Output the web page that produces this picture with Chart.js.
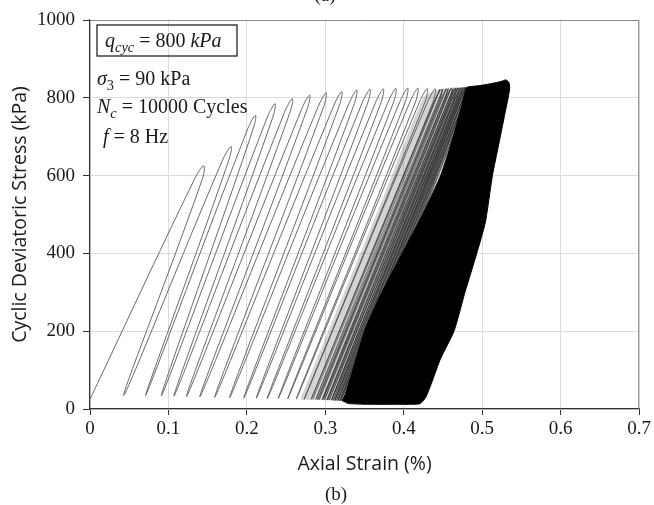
<!DOCTYPE html>
<html>
<head>
<meta charset="utf-8">
<script src="https://cdn.jsdelivr.net/npm/chart.js@4.4.0/dist/chart.umd.min.js"></script>
<style>
  html, body { margin: 0; padding: 0; background: #fff; }
  #wrap { width: 654px; height: 505px; position: relative; }
</style>
</head>
<body>
<div id="wrap"><canvas id="chart"></canvas></div>
<script>
// turning points of the separate early cycles: axial strain (%) / deviatoric stress (kPa)
const valleyStrain = [0.000, 0.043, 0.071, 0.091, 0.107, 0.123, 0.140, 0.159, 0.178, 0.196, 0.212, 0.226, 0.240,
                      0.252, 0.263, 0.273, 0.282, 0.290, 0.297, 0.303, 0.308, 0.312, 0.316, 0.319, 0.322];
const valleyStress = [25, 35, 35, 34, 33, 32, 31, 30, 29, 28, 28, 27, 27, 26, 26, 25, 25, 24, 24, 23, 23, 22, 22, 22, 21];
const peakStrain   = [0.145, 0.180, 0.211, 0.236, 0.258, 0.280, 0.301, 0.321, 0.340, 0.357, 0.374, 0.390,
                      0.405, 0.418, 0.430, 0.440, 0.448, 0.455, 0.461, 0.466, 0.470, 0.474, 0.477, 0.480];
const peakStress   = [625, 675, 755, 785, 798, 807, 813, 816, 820, 822, 823, 824, 825, 825, 824, 823, 822, 823,
                      824, 824, 825, 825, 826, 826];
// end of loading (shoulder) and start of unloading (knee) just under each peak
const shoulderStrain = [0.133, 0.169, 0.201, 0.226, 0.248, 0.270, 0.291, 0.311, 0.330, 0.347, 0.364, 0.380,
                        0.395, 0.408, 0.420, 0.430, 0.438, 0.445, 0.451, 0.456, 0.460, 0.464, 0.467, 0.470];
const kneeStrain     = [0.143, 0.177, 0.208, 0.233, 0.255, 0.277, 0.298, 0.318, 0.337, 0.354, 0.371, 0.387,
                        0.402, 0.415, 0.427, 0.437, 0.445, 0.452, 0.458, 0.463, 0.467, 0.471, 0.474, 0.477];
const capStress      = [590, 640, 720, 750, 763, 772, 778, 781, 785, 787, 788, 789, 790, 790, 789, 788, 787, 788,
                        789, 789, 790, 790, 791, 791];

// closely packed cycles just before the saturated zone
const denseValleyStrain = [0.284, 0.288, 0.292, 0.296, 0.299, 0.302, 0.305, 0.308, 0.310, 0.312, 0.314, 0.316,
                           0.318, 0.320, 0.322, 0.324, 0.326, 0.328, 0.330, 0.332, 0.334];
const denseValleyStress = [25, 25, 24, 24, 24, 23, 23, 23, 22, 22, 22, 22, 21, 21, 21, 21, 20, 20, 20, 20, 20];
const densePeakStrain   = [0.446, 0.450, 0.454, 0.457, 0.460, 0.463, 0.465, 0.467, 0.469, 0.471, 0.473, 0.475,
                           0.476, 0.478, 0.479, 0.481, 0.482, 0.484, 0.485, 0.487];
const densePeakStress   = [822, 822, 823, 823, 824, 824, 824, 825, 825, 825, 826, 826, 826, 827, 827, 827, 828,
                           828, 829, 829];

// faint hatch where the cycles crowd together
const bandStrain = [0.268, 0.316, 0.377, 0.425, 0.445, 0.480, 0.474, 0.463, 0.447, 0.424, 0.398, 0.372, 0.350,
                    0.335, 0.326, 0.321];
const bandStress = [24, 260, 560, 800, 822, 826, 780, 700, 600, 500, 400, 300, 200, 100, 40, 22];

// outline of the solid region traced by the remaining cycles up to N = 10000
const blackStrain = [0.321, 0.330, 0.360, 0.390, 0.410, 0.421, 0.428, 0.436, 0.447, 0.464, 0.478, 0.493, 0.504,
                     0.513, 0.521, 0.528, 0.533, 0.535, 0.534, 0.530, 0.524, 0.515, 0.505, 0.495, 0.486, 0.480,
                     0.474, 0.463, 0.447, 0.424, 0.398, 0.372, 0.350, 0.335, 0.326];
const blackStress = [22, 14, 12, 12, 12, 14, 30, 70, 130, 200, 300, 400, 480, 600, 680, 750, 800, 825, 840, 846,
                     842, 838, 834, 831, 829, 826, 780, 700, 600, 500, 400, 300, 200, 100, 40];

const serif = '"Liberation Serif", "DejaVu Serif", serif';
const sans = '"Open Sans", "Liberation Sans", sans-serif';
const ink = '#1a1a1a';

// valley -> (shoulder) -> peak -> (knee) -> next valley, for every cycle
function loopPath(vx, vy, px, py, sx, kx, cy) {
  const pts = [];
  for (let i = 0; i < px.length; i++) {
    pts.push({ x: vx[i], y: vy[i] });
    if (sx) pts.push({ x: sx[i], y: cy[i] });
    pts.push({ x: px[i], y: py[i] });
    if (kx) pts.push({ x: kx[i], y: cy[i] });
  }
  pts.push({ x: vx[px.length], y: vy[px.length] });
  return pts;
}

function outline(xs, ys) {
  return xs.map((x, i) => ({ x: x, y: ys[i] }));
}

// draws a run of text pieces, some italic, some lowered as subscripts
function drawRuns(ctx, x, y, runs, size) {
  runs.forEach(r => {
    const s = r.sub ? size * 0.72 : size;
    ctx.font = (r.it ? 'italic ' : '') + s + 'px ' + serif;
    ctx.fillText(r.t, x, r.sub ? y + size * 0.25 : y);
    x += ctx.measureText(r.t).width;
  });
  return x;
}

const annotations = {
  id: 'annotations',
  afterDraw(chart) {
    const ctx = chart.ctx;
    const a = chart.chartArea;
    ctx.save();

    // top and right frame
    ctx.strokeStyle = '#8a8a8a';
    ctx.lineWidth = 1;
    ctx.beginPath();
    ctx.moveTo(a.left, a.top + 0.5);
    ctx.lineTo(a.right - 0.5, a.top + 0.5);
    ctx.lineTo(a.right - 0.5, a.bottom);
    ctx.stroke();

    ctx.fillStyle = ink;
    ctx.textBaseline = 'alphabetic';
    const size = 20;

    // boxed loading level
    ctx.strokeStyle = '#222';
    ctx.lineWidth = 1.3;
    ctx.strokeRect(a.left + 7, a.top + 5, 140, 31);
    drawRuns(ctx, a.left + 15, a.top + 27, [
      { t: 'q', it: true }, { t: 'cyc', it: true, sub: true }, { t: ' = 800 ' }, { t: 'kPa', it: true }
    ], size);

    drawRuns(ctx, a.left + 7, a.top + 65, [
      { t: 'σ', it: true }, { t: '3', sub: true }, { t: ' = 90 kPa' }
    ], size);
    drawRuns(ctx, a.left + 7, a.top + 93, [
      { t: 'N', it: true }, { t: 'c', it: true, sub: true }, { t: ' = 10000 Cycles' }
    ], size);
    drawRuns(ctx, a.left + 13, a.top + 123, [
      { t: 'f', it: true }, { t: ' = 8 Hz' }
    ], size);

    // panel captions
    ctx.font = '19px ' + serif;
    ctx.textAlign = 'center';
    ctx.fillText('(b)', 336, 500);
    ctx.fillText('(a)', 325, 1);
    ctx.restore();
  }
};

new Chart(document.getElementById('chart'), {
  type: 'scatter',
  data: {
    datasets: [
      {
        data: outline(blackStrain, blackStress),
        showLine: true, fill: 'shape', tension: 0.2,
        backgroundColor: '#000', borderColor: '#000', borderWidth: 1,
        pointRadius: 0, order: 0
      },
      {
        data: loopPath(denseValleyStrain, denseValleyStress, densePeakStrain, densePeakStress),
        showLine: true, tension: 0.5,
        borderColor: 'rgba(40,40,40,0.65)', borderWidth: 0.9,
        pointRadius: 0, order: 1
      },
      {
        data: loopPath(valleyStrain, valleyStress, peakStrain, peakStress, shoulderStrain, kneeStrain, capStress),
        showLine: true, tension: 0.4,
        borderColor: 'rgba(80,80,80,0.85)', borderWidth: 1,
        pointRadius: 0, order: 2
      },
      {
        data: outline(bandStrain, bandStress),
        showLine: true, fill: 'shape', tension: 0.2,
        backgroundColor: 'rgba(0,0,0,0.17)', borderColor: 'rgba(0,0,0,0)', borderWidth: 1,
        pointRadius: 0, order: 3
      }
    ]
  },
  options: {
    responsive: true,
    maintainAspectRatio: false,
    animation: false,
    layout: { padding: { top: 20, right: 13, bottom: 29, left: 0 } },
    plugins: {
      legend: { display: false },
      tooltip: { enabled: false }
    },
    scales: {
      x: {
        type: 'linear', min: 0, max: 0.7,
        afterFit(scale) { scale.height = 67; },
        ticks: {
          stepSize: 0.1, padding: 3, color: ink,
          font: { family: serif, size: 19 },
          callback: v => +v.toFixed(1)
        },
        grid: { color: '#dcdcdc', tickColor: '#333', tickLength: 6 },
        border: { color: '#333', width: 1.2 },
        title: {
          display: true, text: 'Axial Strain (%)', color: ink,
          font: { family: sans, size: 19.5 }, padding: { top: 0, bottom: 0 }
        }
      },
      y: {
        min: 0, max: 1000,
        afterFit(scale) { scale.width = 90; },
        ticks: {
          stepSize: 200, padding: 8, color: ink,
          font: { family: serif, size: 19 },
          callback: v => String(v)
        },
        grid: { color: '#dcdcdc', tickColor: '#333', tickLength: 7 },
        border: { color: '#333', width: 1.2 },
        title: {
          display: true, text: 'Cyclic Deviatoric Stress (kPa)', color: ink,
          font: { family: sans, size: 19.5 }, padding: { top: 9, bottom: 0 }
        }
      }
    }
  },
  plugins: [annotations]
});
</script>
</body>
</html>
